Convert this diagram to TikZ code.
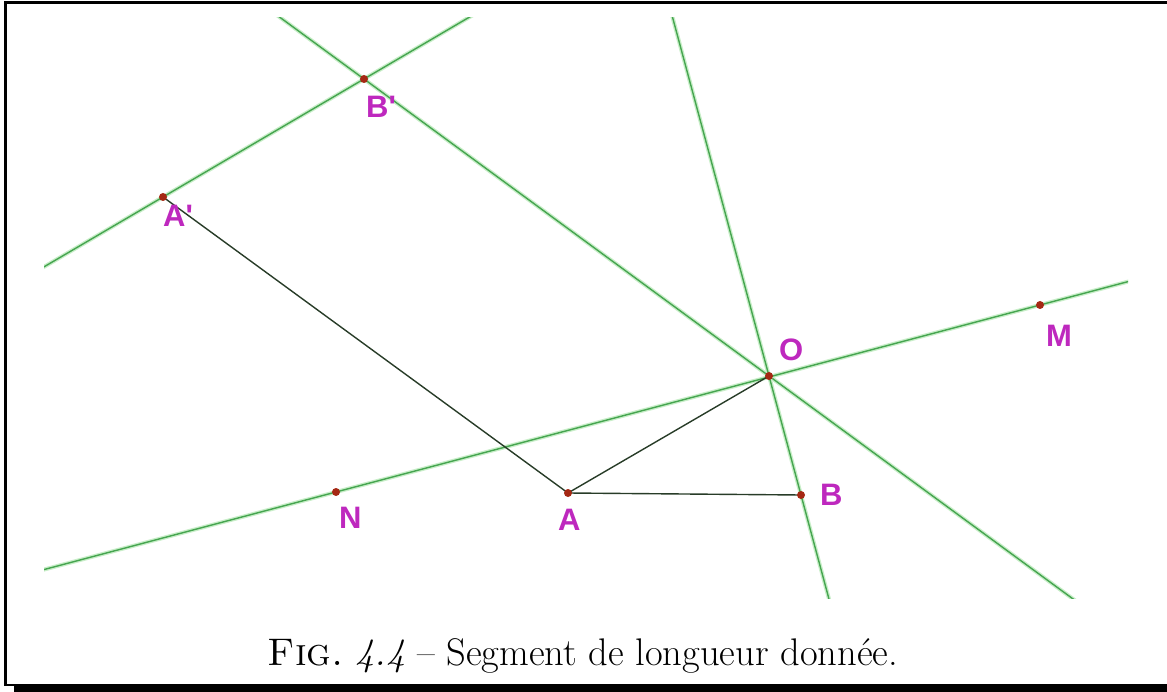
\documentclass[tikz,border=0pt]{standalone}
\usepackage{fontspec}
\newfontfamily\lblfont{Liberation Sans}
\usetikzlibrary{calc}
\definecolor{glinecol}{RGB}{70,165,80}
\definecolor{halocol}{RGB}{200,238,200}
\definecolor{segcol}{RGB}{40,60,40}
\definecolor{dotcol}{RGB}{165,40,20}
\definecolor{lblcol}{RGB}{190,40,190}
\begin{document}
\begin{tikzpicture}[x=1pt,y=-1pt,
  halo/.style={draw=halocol, line width=4pt},
  gline/.style={draw=glinecol, line width=1.4pt},
  seg/.style={draw=segcol, line width=1.4pt},
  pt/.style={circle, fill=dotcol, inner sep=0pt, minimum size=8pt},
  lbl/.style={text=lblcol, font=\lblfont\bfseries\fontsize{31}{31}\selectfont, inner sep=0pt},
  frameline/.style={draw=black, line width=3pt}]
\useasboundingbox (0,0) rectangle (1167,692);
\fill[white] (0,0) rectangle (1167,692);
% frame (shadow box)
\draw[frameline] (5.5,685) -- (5.5,3) -- (1167,3);
\draw[line width=2pt] (4,685) -- (14,685);
\fill[black] (14,684) rectangle (1167,692);
% points
\coordinate (pBp) at (364,79);
\coordinate (pAp) at (163,197);
\coordinate (pO) at (769,376);
\coordinate (pA) at (568,493);
\coordinate (pB) at (801,495);
\coordinate (pN) at (336,492);
\coordinate (pM) at (1040,305);
% lines clipped to the screenshot area
\begin{scope}
\clip (44,18) rectangle (1128,598);
\foreach \p/\q in {pAp/pBp, pBp/pO, pO/pB, pN/pM}{
  \draw[halo] ($(\p)!-5!(\q)$) -- ($(\p)!6!(\q)$);
  \draw[gline] ($(\p)!-5!(\q)$) -- ($(\p)!6!(\q)$);
}
\end{scope}
% segments
\draw[seg] (pAp) -- (pA);
\draw[seg] (pA) -- (pO);
\draw[seg] (pA) -- (pB);
% dots
\node[pt] (Bp) at (pBp) {};
\node[pt] (Ap) at (pAp) {};
\node[pt] (O) at (pO) {};
\node[pt] (A) at (pA) {};
\node[pt] (B) at (pB) {};
\node[pt] (N) at (pN) {};
\node[pt] (M) at (pM) {};
% labels
\node[lbl, anchor=base west] (lBp) at (366,118) {B'};
\node[lbl, anchor=base west] (lAp) at (163,227) {A'};
\node[lbl, anchor=base west] (lO) at (779,361) {O};
\node[lbl, anchor=base west] (lM) at (1046,347) {M};
\node[lbl, anchor=base west] (lN) at (339,528) {N};
\node[lbl, anchor=base west] (lA) at (558,530) {A};
\node[lbl, anchor=base west] (lB) at (820,505) {B};
% caption
\node[anchor=base, font=\fontsize{38.5}{46}\selectfont, inner sep=0pt] (cap) at (583,665)
  {\textsc{Fig.}\ \textit{4.4} -- Segment de longueur donnée.};
\end{tikzpicture}
\end{document}
